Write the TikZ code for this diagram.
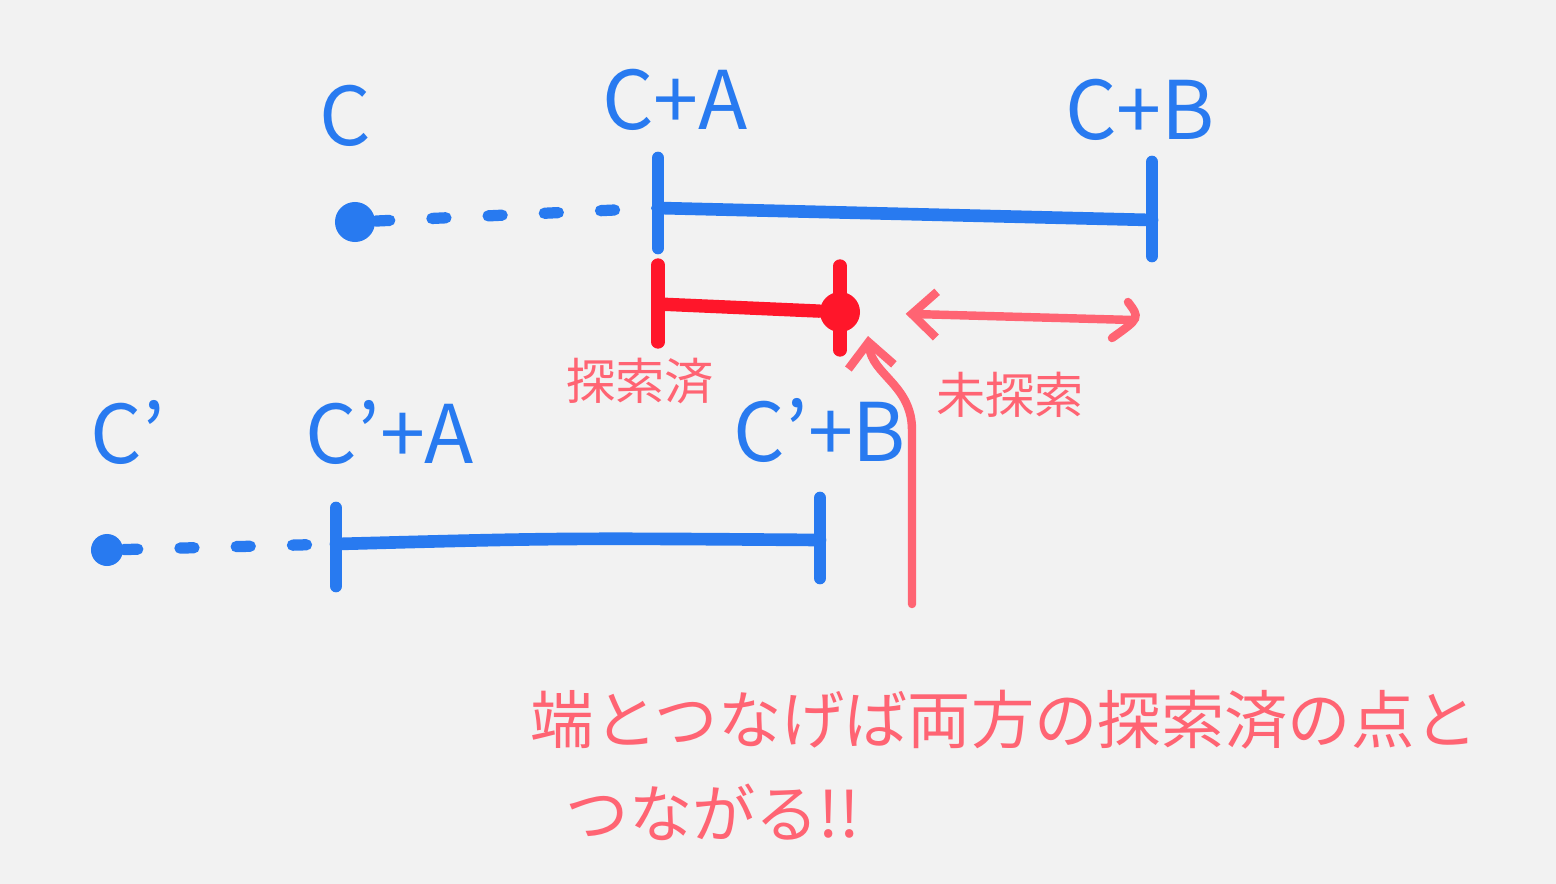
\documentclass[tikz,border=0pt]{standalone}
\usepackage{fontspec}
\newfontfamily\jpfont{Noto Sans CJK JP}
\usetikzlibrary{arrows.meta, positioning}
\definecolor{penblue}{RGB}{40,122,240}
\definecolor{penred}{RGB}{255,22,42}
\definecolor{penpink}{RGB}{255,100,115}
\definecolor{paper}{RGB}{242,242,242}

\begin{document}
\begin{tikzpicture}[x=0.01cm, y=-0.01cm,
  bluebar/.style={penblue, line width=3.6pt, line cap=round},
  redbar/.style={penred, line width=3.8pt, line cap=round},
  dashline/.style={penblue, line width=3.2pt, dash pattern=on 4pt off 12pt, line cap=round},
  pt/.style={circle, fill=#1, minimum size=0.4cm, inner sep=0pt},
  pinkarrow/.style={penpink, line width=2.4pt, line cap=round, -{Straight Barb[length=7pt, width=13pt]}},
  lbl/.style={font=\jpfont\fontsize{23}{26}\selectfont, text=penblue, inner sep=0pt},
  notelbl/.style={font=\jpfont\fontsize{#1}{#1}\selectfont, text=penpink, inner sep=0pt}
]
  \fill[paper] (0,0) rectangle (1556,884);
  \useasboundingbox (0,0) rectangle (1556,884);

  % upper range
  \node[pt=penblue] (c) at (355,222) {};
  \coordinate (ca) at (658,208);
  \coordinate (cb) at (1152,220);
  \draw[bluebar] (658,158) -- (658,248);
  \draw[bluebar] (1152,162) -- (1152,256);
  \draw[bluebar] (ca) -- (cb);
  \draw[dashline] (c) -- (ca);
  \node[lbl] (lblc) at (345,116) {C};
  \node[lbl] (lblca) at (675,100) {C+A};
  \node[lbl] (lblcb) at (1140,110) {C+B};

  % searched part
  \node[pt=penred] (hit) at (840,312) {};
  \coordinate (sa) at (658,304);
  \draw[redbar] (658,265) -- (658,342);
  \draw[redbar] (840,266) -- (840,350);
  \draw[redbar] (sa) -- (hit);
  \node[notelbl=14] (done) at (640,381) {探索済};
  \node[notelbl=14] (todo) at (1010,395) {未探索};

  % unsearched part
  \coordinate (ub) at (1133,320);
  \draw[pinkarrow, shorten >=0.45cm] (ub) -- (hit);
  \draw[penpink, line width=2.4pt, line cap=round] (1128,302) .. controls (1140,318) .. (1112,338);

  % lower range
  \node[pt=penblue, minimum size=0.32cm] (c2) at (107,550) {};
  \coordinate (c2a) at (336,544);
  \coordinate (c2b) at (820,540);
  \draw[bluebar] (336,508) -- (336,586);
  \draw[bluebar] (820,498) -- (820,578);
  \draw[bluebar] (c2a) .. controls (560,538) .. (c2b);
  \draw[dashline] (c2) -- (c2a);
  \node[lbl] (lblc2) at (128,432) {C’};
  \node[lbl] (lblc2a) at (390,432) {C’+A};
  \node[lbl] (lblc2b) at (820,430) {C’+B};

  % note
  \coordinate (foot) at (912,604);
  \coordinate (tip) at (868,336);
  \draw[pinkarrow] (foot) -- (912,430) .. controls (912,385) and (872,375) .. (tip);
  \node[notelbl=18, anchor=west] (note1) at (530,720) {端とつなげば両方の探索済の点と};
  \node[notelbl=18, anchor=west] (note2) at (565,812) {つながる!!};
\end{tikzpicture}
\end{document}
